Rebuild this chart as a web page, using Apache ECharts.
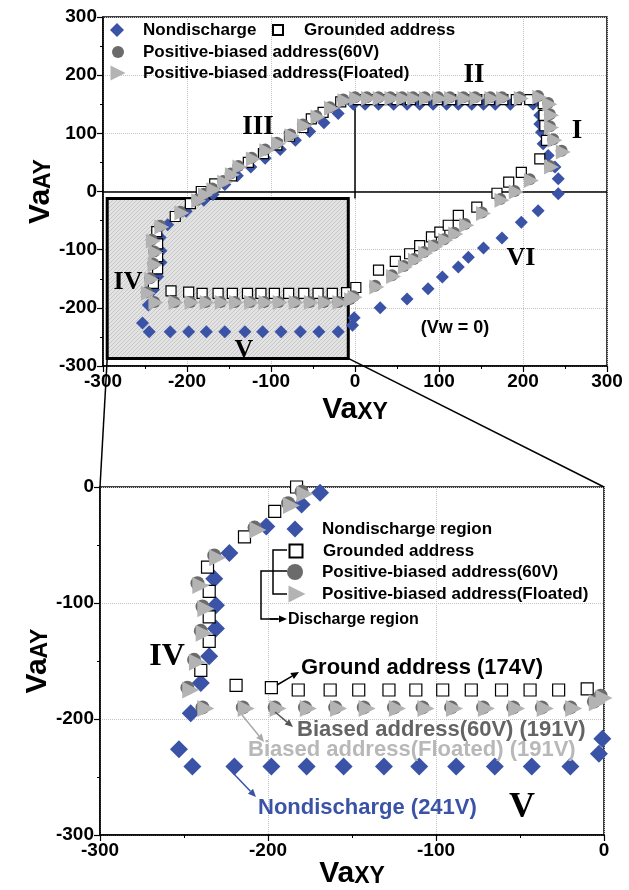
<!DOCTYPE html>
<html><head><meta charset="utf-8">
<script src="https://cdn.jsdelivr.net/npm/echarts@6/dist/echarts.min.js"></script>
<style>html,body{margin:0;padding:0;background:#fff}#c{width:629px;height:890px}</style>
</head><body><div id="c"></div>
<script>
// ---------------- DATA (VaXY, VaAY) ----------------
const nondischarge = [
 [-245,-241],[-220,-241],[-198,-241],[-177,-241],[-155,-241],[-131,-241],[-110,-241],[-88,-241],[-65,-241],[-43,-241],[-20,-241],[-3,-230],[-1,-217],
 [30,-200],[62,-185],[87,-167],[104,-147],[123,-130],[135,-113],[153,-97],[175,-80],[198,-53],[218,-33],[242,-4],
 [242,22],[238,42],[230,62],[224,82],[222,102],[220,116],[220,131],[212,150],
 [185,150],[167,150],[153,150],[139,150],[123,150],[109,150],[93,150],[77,150],[62,150],[46,150],[28,150],[12,150],[-2,150],
 [-20,134],[-37,118],[-54,103],[-71,88],[-89,72],[-107,57],[-124,42],[-140,27],[-155,12],[-169,-5],[-180,-15],[-201,-34],[-223,-57],[-232,-79],[-231,-102],[-231,-122],[-235,-146],[-240,-169],[-246,-195],[-253,-226]
];
const grounded = [
 [-240,-158],[-219,-171],[-198,-173],[-182,-175],[-163,-175],[-146,-175],[-128,-175],[-112,-175],[-96,-175],[-79,-175],[-61,-175],[-44,-175],[-27,-175],[-10,-174],
 [1,-165],[28,-135],[48,-120],[65,-107],[77,-93],[91,-78],[101,-70],[111,-58],[123,-41],[145,-27],[169,-3],[183,16],[198,33],[220,56],
 [228,88],[226,113],[225,131],[224,151],
 [208,158],[192,158],[176,158],[160,158],[145,158],[130,158],[114,158],[98,158],[82,158],[66,158],[50,158],[34,158],[18,158],[4,158],[-17,154],
 [-38,136],[-52,125],[-62,110],[-78,95],[-93,80],[-109,65],[-127,50],[-147,27],[-167,13],[-183,0],[-196,-21],[-214,-43],[-236,-69],[-235,-90],[-235,-112],[-235,-133]
];
const biased60 = [
 [-239,-190],[-215,-190],[-196,-190],[-178,-190],[-160,-190],[-143,-190],[-125,-190],[-108,-190],[-91,-190],[-72,-190],[-54,-190],[-37,-190],[-20,-190],[-6,-185],
 [-2,-180],[24,-162],[44,-144],[58,-128],[70,-116],[82,-104],[94,-93],[106,-82],[118,-71],[131,-56],[151,-36],[173,-13],[190,1],[208,21],[232,44],[246,70],
 [236,90],[232,112],[232,133],[230,152],
 [218,164],[196,162],[175,162],[161,162],[143,162],[129,162],[113,162],[99,162],[83,162],[69,162],[56,162],[42,162],[28,162],[14,162],[0,162],
 [-14,158],[-30,145],[-46,130],[-62,115],[-77,98],[-93,84],[-107,72],[-123,58],[-139,44],[-148,31],[-157,18],[-170,5],[-180,-4],[-188,-14],[-208,-35],[-232,-59],[-242,-83],[-239,-103],[-240,-124],[-244,-149],[-248,-173]
];
const floated = [
 [-237,-191],[-213,-191],[-194,-191],[-176,-191],[-158,-191],[-141,-191],[-123,-191],[-106,-191],[-89,-191],[-70,-191],[-52,-191],[-35,-191],[-18,-191],[-4,-186],
 [0,-182],[26,-164],[46,-146],[60,-130],[72,-118],[84,-106],[96,-95],[108,-84],[120,-73],[133,-58],[153,-38],[175,-15],[192,-1],[210,19],[234,42],[248,68],
 [238,88],[234,110],[234,131],[232,150],
 [220,162],[198,160],[177,160],[163,160],[145,160],[131,160],[115,160],[101,160],[85,160],[71,160],[58,160],[44,160],[30,160],[16,160],[2,160],
 [-12,156],[-28,143],[-44,128],[-60,113],[-75,96],[-91,82],[-105,70],[-121,56],[-137,42],[-146,29],[-155,16],[-168,3],[-178,-6],[-186,-16],[-206,-37],[-230,-61],[-240,-85],[-237,-105],[-238,-126],[-242,-151],[-246,-175]
];
const zoomBox = [[-295,-12],[-8,-287]];
const zeroVLine = [[0,-12],[0,157]];
const topNames = ['Nondischarge','Grounded address','Positive-biased address(60V)','Positive-biased address(Floated)'];
const botNames = ['Nondischarge region','Grounded address','Positive-biased address(60V)','Positive-biased address(Floated)'];

// ---------------- STYLE ----------------
const FF = '"Liberation Sans", Arial, sans-serif';
const SERIF = '"Liberation Serif", "Times New Roman", serif';
const BLUE = '#3a53a7', DGRAY = '#6b6b6b', LGRAY = '#b3b3b3';
const TRI = 'path://M0,0L10,5L0,10Z';

const pat = document.createElement('canvas'); pat.width = 4; pat.height = 4;
const pg = pat.getContext('2d');
pg.fillStyle = '#e3e3e3'; pg.fillRect(0,0,4,4);
pg.fillStyle = '#c6c6c6'; pg.fillRect(0,0,1,1); pg.fillRect(2,2,1,1); pg.fillRect(1,3,1,1); pg.fillRect(3,1,1,1);

const chart = echarts.init(document.getElementById('c'), null, {renderer:'canvas'});

function axisCommon(min, max) {
  return {
    type:'value', min:min, max:max, interval:100,
    axisLine:{show:true, onZero:false, lineStyle:{color:'#000', width:1.5}},
    axisTick:{show:true, length:6, lineStyle:{color:'#000', width:1.2}},
    minorTick:{show:true, splitNumber:2, length:3, lineStyle:{color:'#000', width:1}},
    axisLabel:{color:'#000', fontSize:19, fontWeight:'bold', fontFamily:FF, margin:6},
    splitLine:{show:true, lineStyle:{color:'#c4c4c4', type:'dotted', width:1}}
  };
}
const nameRich = () => ({
  a:{fontSize:30, fontWeight:'bold', fontFamily:FF, color:'#000', verticalAlign:'bottom', lineHeight:32},
  b:{fontSize:23, fontWeight:'bold', fontFamily:FF, color:'#000', verticalAlign:'bottom', lineHeight:32, padding:[0,0,1,0]}
});

const labelMap = {};
const names = ['nd','gr','b60','fl'];
names.forEach((n,i)=>{ labelMap['t-'+n]=topNames[i]; labelMap['b-'+n]=botNames[i]; });

function series(prefix, gi, sizes) {
  return [
    {name:prefix+'nd', type:'scatter', xAxisIndex:gi, yAxisIndex:gi, data:nondischarge, symbol:'diamond', symbolSize:sizes[0], itemStyle:{color:BLUE, opacity:1}, z:2},
    {name:prefix+'gr', type:'scatter', xAxisIndex:gi, yAxisIndex:gi, data:grounded, symbol:'rect', symbolSize:sizes[1], itemStyle:{color:'#fff', borderColor:'#000', borderWidth:1.2, opacity:1}, z:3},
    {name:prefix+'b60', type:'scatter', xAxisIndex:gi, yAxisIndex:gi, data:biased60, symbol:'circle', symbolSize:sizes[2], itemStyle:{color:DGRAY, opacity:1}, z:4},
    {name:prefix+'fl', type:'scatter', xAxisIndex:gi, yAxisIndex:gi, data:floated, symbol:TRI, symbolSize:sizes[3], itemStyle:{color:LGRAY, opacity:1}, z:5}
  ];
}

function legendItem(name, iconCx, textX, cy, h, fs) {
  return {
    data:[name], left: iconCx - h/2, top: cy - 11, itemWidth: h, itemHeight: h,
    padding:0, itemGap:0, selectedMode:false, formatter: n => labelMap[n], symbolKeepAspect:true,
    textStyle:{fontSize:fs, fontWeight:'bold', fontFamily:FF, color:'#000', lineHeight:22, height:22, verticalAlign:'middle',
      padding:[0,0,0, Math.max(0, textX - (iconCx + h/2 + 5))]}
  };
}

const xTop = Object.assign(axisCommon(-300,300), {gridIndex:0, name:'{a|Va}{b|XY}', nameLocation:'middle', nameGap:27, nameMoveOverlap:false, nameTextStyle:{rich:nameRich()}});
const yTop = Object.assign(axisCommon(-300,300), {gridIndex:0, name:'{a|Va}{b|AY}', nameLocation:'middle', nameGap:47, nameMoveOverlap:false, nameRotate:90, nameTextStyle:{rich:nameRich()}});
const xBot = Object.assign(axisCommon(-300,0), {gridIndex:1, name:'{a|Va}{b|XY}', nameLocation:'middle', nameGap:22, nameMoveOverlap:false, nameTextStyle:{rich:nameRich()}});
const yBot = Object.assign(axisCommon(-300,0), {gridIndex:1, name:'{a|Va}{b|AY}', nameLocation:'middle', nameGap:47, nameMoveOverlap:false, nameRotate:90, nameTextStyle:{rich:nameRich()}});

const helper = {
  type:'scatter', xAxisIndex:0, yAxisIndex:0, data:[], z:1, silent:true,
  markArea:{silent:true, z:1, itemStyle:{color:{image:pat, repeat:'repeat'}, borderColor:'#000', borderWidth:3},
    data:[[{coord:zoomBox[0]},{coord:zoomBox[1]}]]},
  markLine:{silent:true, symbol:'none', z:1, label:{show:false}, lineStyle:{color:'#000', width:1.5, type:'solid'},
    data:[[{coord:[-300,0]},{coord:[300,0]}],[{coord:zeroVLine[0]},{coord:zeroVLine[1]}]]}
};

const option = {
  animation:false,
  backgroundColor:'#fff',
  grid:[
    {left:103, right:22, top:17, height:349, show:true, borderColor:'#000', borderWidth:1.5, backgroundColor:'transparent', outerBoundsMode:'none', containLabel:false},
    {left:100, right:25, top:487, height:348, show:true, borderColor:'#000', borderWidth:1.5, backgroundColor:'transparent', outerBoundsMode:'none', containLabel:false}
  ],
  xAxis:[xTop, xBot],
  yAxis:[yTop, yBot],
  legend:[
    legendItem('t-nd', 117, 143, 30, 14, 17),
    legendItem('t-gr', 277, 303, 30, 10, 17),
    legendItem('t-b60', 118, 143, 52, 12, 17),
    legendItem('t-fl', 118, 143, 73, 15, 17),
    legendItem('b-nd', 295, 322, 529, 17, 17),
    legendItem('b-gr', 295, 322, 551, 13, 17),
    legendItem('b-b60', 295, 322, 572, 16, 17),
    legendItem('b-fl', 297, 322, 594, 17, 17)
  ],
  series:[helper].concat(series('t-',0,[13,10,12,15])).concat(series('b-',1,[18,12,14,17]))
};
chart.setOption(option);

// ---------------- ANNOTATIONS ----------------
function txt(x, y, s, size, opts) {
  return {type:'text', x:x, y:y, z:50, style:Object.assign({text:s, fontSize:size, fontFamily:FF, fontWeight:'bold', fill:'#000', align:'center', verticalAlign:'middle'}, opts||{})};
}
function line(x1,y1,x2,y2,color,w) {
  return {type:'line', z:50, shape:{x1,y1,x2,y2}, style:{stroke:color, lineWidth:w||1.5}};
}
function arrow(x1,y1,x2,y2,color) {
  const a = Math.atan2(y2-y1, x2-x1), L = 8, H = 3.5;
  const bx = x2 - L*Math.cos(a), by = y2 - L*Math.sin(a);
  return [line(x1,y1,bx,by,color,1.5),
    {type:'polygon', z:50, shape:{points:[[x2,y2],[bx - H*Math.sin(a), by + H*Math.cos(a)],[bx + H*Math.sin(a), by - H*Math.cos(a)]]}, style:{fill:color}}];
}
const p = (gi, v) => chart.convertToPixel({gridIndex:gi}, v);
const bl = p(0,[zoomBox[0][0], zoomBox[1][1]]), br = p(0,[zoomBox[1][0], zoomBox[1][1]]);
const c0 = p(1,[-300,0]), c1 = p(1,[0,0]);

const els = [
  line(bl[0], bl[1], c0[0], c0[1], '#000', 1.5),
  line(br[0], br[1], c1[0], c1[1], '#000', 1.5),
  txt(577,131,'I',27,{fontFamily:SERIF}),
  txt(474,75,'II',27,{fontFamily:SERIF}),
  txt(258,127,'III',27,{fontFamily:SERIF}),
  txt(128,282,'IV',26,{fontFamily:SERIF}),
  txt(244,350,'V',26,{fontFamily:SERIF}),
  txt(521,258,'VI',26,{fontFamily:SERIF}),
  txt(455,328,'(Vw = 0)',18),
  txt(167,657,'IV',32,{fontFamily:SERIF}),
  txt(522,808,'V',36,{fontFamily:SERIF}),
  txt(301,668,'Ground address (174V)',22,{align:'left'}),
  txt(297,730,'Biased address(60V) (191V)',22,{align:'left', fill:'#646464'}),
  txt(248,750,'Biased address(Floated) (191V)',22,{align:'left', fill:'#b8b8b8'}),
  txt(258,808,'Nondischarge (241V)',22,{align:'left', fill:BLUE}),
  txt(288,620,'Discharge region',16,{align:'left'}),
  {type:'polyline', z:50, shape:{points:[[287,550],[273,550],[273,594],[287,594]]}, style:{stroke:'#000', lineWidth:1.5, fill:null}},
  line(273,571,287,571,'#000',1.5),
  {type:'polyline', z:50, shape:{points:[[273,571],[261,571],[261,619],[278,619]]}, style:{stroke:'#000', lineWidth:1.5, fill:null}}
].concat(arrow(270,619,287,619,'#000'))
 .concat(arrow(277,685,299,672,'#000'))
 .concat(arrow(275,712,293,727,'#555'))
 .concat(arrow(242,715,264,742,'#aaa'))
 .concat(arrow(233,773,256,797,BLUE));
chart.setOption({graphic:{elements:els}});
</script>
</body></html>
